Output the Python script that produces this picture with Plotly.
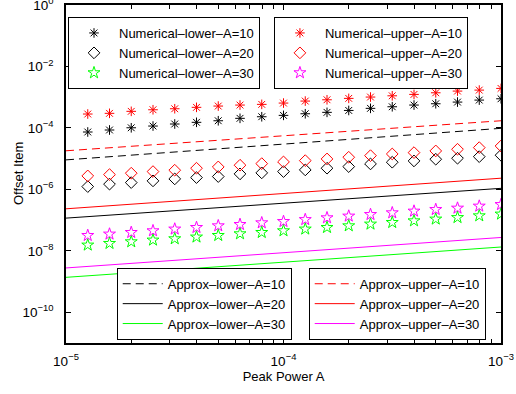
import plotly.graph_objects as go

# Peak power (x) sample points
peak_power = [1.259e-5, 1.585e-5, 1.995e-5, 2.512e-5, 3.162e-5, 3.981e-5, 5.012e-5,
              6.310e-5, 7.943e-5, 1.0e-4, 1.259e-4, 1.585e-4, 1.995e-4, 2.512e-4,
              3.162e-4, 3.981e-4, 5.012e-4, 6.310e-4, 7.943e-4, 1.0e-3]

num_lower_A10 = [7.36e-5, 8.55e-5, 1.01e-4, 1.15e-4, 1.34e-4, 1.52e-4, 1.71e-4, 2.05e-4,
                 2.31e-4, 2.56e-4, 2.89e-4, 3.21e-4, 3.7e-4, 4.33e-4, 4.88e-4, 5.54e-4,
                 6.11e-4, 6.93e-4, 8.05e-4, 8.87e-4]
num_lower_A20 = [1.23e-6, 1.48e-6, 1.66e-6, 1.89e-6, 2.19e-6, 2.42e-6, 2.61e-6, 3.19e-6,
                 3.44e-6, 3.79e-6, 4.30e-6, 4.88e-6, 5.50e-6, 6.73e-6, 7.64e-6, 8.42e-6,
                 9.57e-6, 1.03e-5, 1.16e-5, 1.29e-5]
num_lower_A30 = [1.54e-8, 1.74e-8, 1.97e-8, 2.24e-8, 2.47e-8, 2.81e-8, 3.16e-8, 3.59e-8,
                 3.96e-8, 4.50e-8, 5.11e-8, 5.75e-8, 6.53e-8, 7.41e-8, 8.36e-8, 9.48e-8,
                 1.08e-7, 1.21e-7, 1.38e-7, 1.57e-7]
num_upper_A10 = [2.83e-4, 2.98e-4, 3.46e-4, 3.90e-4, 4.20e-4, 4.67e-4, 5.14e-4, 5.54e-4,
                 5.84e-4, 6.43e-4, 7.47e-4, 8.24e-4, 9.14e-4, 1.01e-3, 1.11e-3, 1.23e-3,
                 1.39e-3, 1.58e-3, 1.70e-3, 1.93e-3]
num_upper_A20 = [2.74e-6, 3.03e-6, 3.36e-6, 3.79e-6, 4.20e-6, 4.88e-6, 5.38e-6, 6.11e-6,
                 6.89e-6, 7.82e-6, 8.61e-6, 9.77e-6, 1.11e-5, 1.25e-5, 1.42e-5, 1.57e-5,
                 1.78e-5, 2.02e-5, 2.28e-5, 2.58e-5]
num_upper_A30 = [3.16e-8, 3.51e-8, 3.96e-8, 4.50e-8, 5.11e-8, 5.75e-8, 6.53e-8, 7.20e-8,
                 8.17e-8, 9.01e-8, 1.04e-7, 1.19e-7, 1.35e-7, 1.52e-7, 1.73e-7, 1.96e-7,
                 2.21e-7, 2.45e-7, 2.85e-7, 3.21e-7]

# Approximation lines (straight in log-log): endpoints
approx_x = [1e-5, 1e-3]
approx_lower_A10 = [9.1e-6, 9.7e-5]
approx_lower_A20 = [1.16e-7, 1.08e-6]
approx_lower_A30 = [1.37e-9, 1.33e-8]
approx_upper_A10 = [1.8e-5, 1.71e-4]
approx_upper_A20 = [2.33e-7, 2.31e-6]
approx_upper_A30 = [2.77e-9, 2.72e-8]

# Tick labels
y_tickvals = [1e0, 1e-2, 1e-4, 1e-6, 1e-8, 1e-10]
y_ticktext = ["10<sup>0</sup>", "10<sup>−2</sup>", "10<sup>−4</sup>",
              "10<sup>−6</sup>", "10<sup>−8</sup>", "10<sup>−10</sup>"]
x_tickvals = [1e-5, 1e-4, 1e-3]
x_ticktext = ["10<sup>−5</sup>", "10<sup>−4</sup>", "10<sup>−3</sup>"]

FONT = "Liberation Sans, Arial, Helvetica, sans-serif"
fig = go.Figure()

def line(y, name, color, dash, leg):
    fig.add_trace(go.Scatter(x=approx_x, y=y, mode="lines", name=name, legend=leg,
                             line=dict(color=color, width=1, dash=dash)))

def mark(y, name, color, symbol, size, leg):
    fig.add_trace(go.Scatter(x=peak_power, y=y, mode="markers", name=name, legend=leg,
                             marker=dict(symbol=symbol, size=size, color=color,
                                         line=dict(color=color, width=1))))

mark(num_lower_A10, "Numerical–lower–A=10", "black", "asterisk-open", 8, "legend")
mark(num_lower_A20, "Numerical–lower–A=20", "black", "diamond-open", 9, "legend")
mark(num_lower_A30, "Numerical–lower–A=30", "#00FF00", "star-open", 9, "legend")
mark(num_upper_A10, "Numerical–upper–A=10", "#FF0000", "asterisk-open", 8, "legend2")
mark(num_upper_A20, "Numerical–upper–A=20", "#FF0000", "diamond-open", 9, "legend2")
mark(num_upper_A30, "Numerical–upper–A=30", "#FF00FF", "star-open", 9, "legend2")
line(approx_lower_A10, "Approx–lower–A=10", "black", "8px,5px", "legend3")
line(approx_lower_A20, "Approx–lower–A=20", "black", "solid", "legend3")
line(approx_lower_A30, "Approx–lower–A=30", "#00FF00", "solid", "legend3")
line(approx_upper_A10, "Approx–upper–A=10", "#FF0000", "8px,5px", "legend4")
line(approx_upper_A20, "Approx–upper–A=20", "#FF0000", "solid", "legend4")
line(approx_upper_A30, "Approx–upper–A=30", "#FF00FF", "solid", "legend4")

leg_common = dict(bgcolor="white", bordercolor="black", borderwidth=1,
                  font=dict(family=FONT, size=13, color="black"), itemwidth=40,
                  tracegroupgap=0)
fig.update_layout(
    width=516, height=394,
    margin=dict(l=66, r=15, t=5, b=51, autoexpand=False),
    paper_bgcolor="white", plot_bgcolor="white",
    font=dict(family=FONT, size=13, color="black"),
    showlegend=True,
    legend=dict(x=0.0046, y=0.858, xanchor="left", yanchor="middle", **leg_common),
    legend2=dict(x=0.478, y=0.858, xanchor="left", yanchor="middle", **leg_common),
    legend3=dict(x=0.1166, y=0.116, xanchor="left", yanchor="middle", **leg_common),
    legend4=dict(x=0.558, y=0.116, xanchor="left", yanchor="middle", **leg_common),
    xaxis=dict(type="log", range=[-5, -3], tickvals=x_tickvals, ticktext=x_ticktext,
               showgrid=False, zeroline=False, showline=True, linecolor="black",
               linewidth=1.5, mirror="ticks", ticks="inside", ticklen=5,
               tickcolor="black", tickfont=dict(size=13.5), ticklabeloverflow="allow",
               ticklabelstandoff=5, automargin=False,
               minor=dict(ticks="inside", ticklen=4, tickcolor="black", dtick="D1",
                          showgrid=False),
               title=dict(text="Peak Power A", font=dict(size=13), standoff=2)),
    yaxis=dict(type="log", range=[-11, 0], tickvals=y_tickvals, ticktext=y_ticktext,
               showgrid=False, zeroline=False, showline=True, linecolor="black",
               linewidth=1.5, mirror="ticks", ticks="inside", ticklen=5,
               tickcolor="black", tickfont=dict(size=13.5), ticklabeloverflow="allow",
               ticklabelstandoff=8, automargin=False),
    annotations=[dict(text="Offset Item", xref="paper", yref="paper",
                      x=-0.1103, y=0.5, xanchor="center", yanchor="middle",
                      textangle=-90, showarrow=False, font=dict(size=13))],
)

fig.write_html("out.html")
